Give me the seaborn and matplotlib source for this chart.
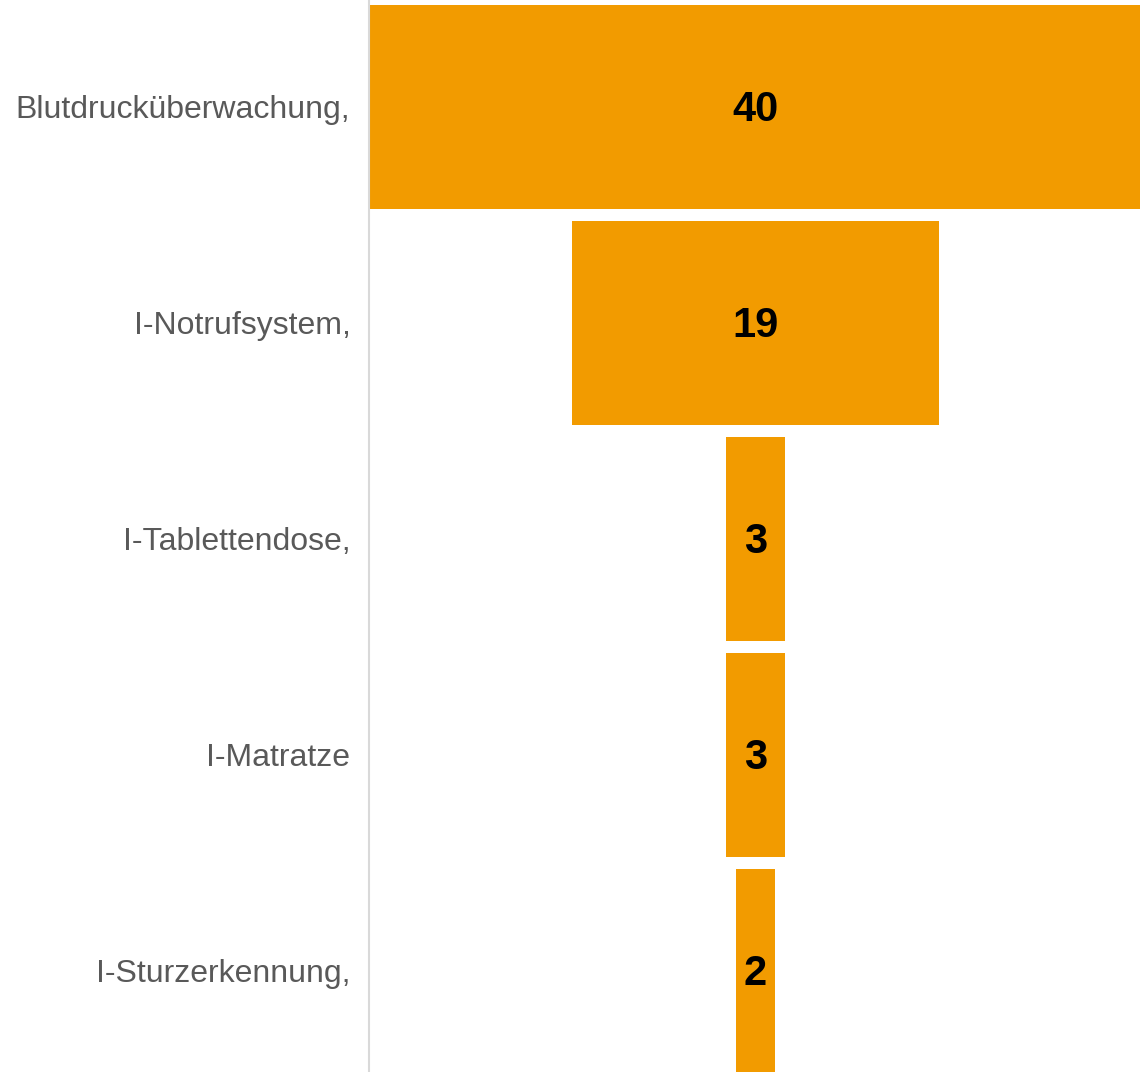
import matplotlib
matplotlib.use("Agg")
import matplotlib.pyplot as plt
import seaborn as sns
import pandas as pd

categories = ["Blutdrucküberwachung,", "I-Notrufsystem,", "I-Tablettendose,", "I-Matratze", "I-Sturzerkennung,"]
values = [40, 19, 3, 3, 2]

df = pd.DataFrame({"category": categories, "value": values})

sns.set_style("white")
plt.rcParams["font.family"] = ["Liberation Sans", "DejaVu Sans"]

fig = plt.figure(figsize=(11.4, 10.72), dpi=100)
# axes a bit wider / taller than the canvas, the reference clips the top bar and the last row
ax = fig.add_axes([368.5 / 1140, (1072 - 1080) / 1072 + 0.5 / 1072 * 0, 774 / 1140, 1080 / 1072])

sns.barplot(data=df, x="value", y="category", color="#F29B00", saturation=1,
            width=0.944, ax=ax)

# center each bar to make a funnel
for patch, v in zip(ax.patches, values):
    patch.set_x(-v / 2)
    patch.set_edgecolor("none")
    ax.annotate(str(v), (0, patch.get_y() + patch.get_height() / 2),
                xytext=(0, -2), textcoords="offset points",
                ha="center", va="center", fontsize=30, fontweight="bold", color="black")

m = max(values)
ax.set_xlim(-m / 2, m / 2)
ax.set_ylim(len(categories) - 0.495, -0.495)
ax.set_xlabel("")
ax.set_ylabel("")
ax.set_xticks([])
ax.tick_params(axis="y", length=0, pad=13, labelsize=23, labelcolor="#595959")

for s in ["top", "right", "bottom"]:
    ax.spines[s].set_visible(False)
ax.spines["left"].set_color("#d9d9d9")
ax.spines["left"].set_linewidth(1.5)

fig.savefig("out.png", dpi=100)
